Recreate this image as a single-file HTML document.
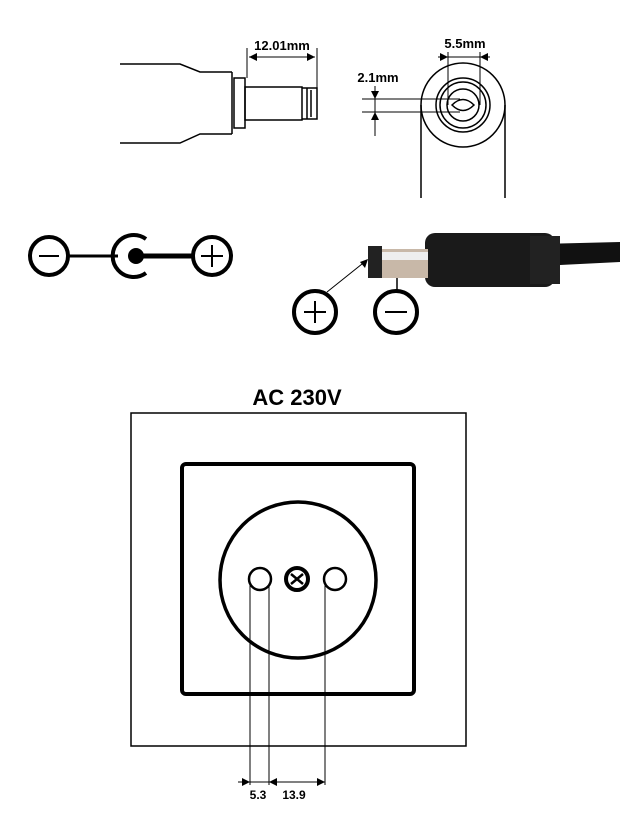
<!DOCTYPE html><html><head><style>body{margin:0;background:#fff}svg{display:block}text{font-family:"Liberation Sans",sans-serif;font-weight:bold}</style></head><body>
<svg width="635" height="836" viewBox="0 0 635 836" xmlns="http://www.w3.org/2000/svg">
<g fill="none" stroke="#000" stroke-width="1.5">
<path d="M120,64H180L200,72H232M120,143H180L200,134H232"/>
<path d="M232,72V134"/>
<rect x="234" y="78" width="11" height="50"/>
<rect x="245" y="87" width="57" height="33"/>
<path d="M302,88H317V119H302M307,88V119M311,90V117"/>
<path d="M247,48V78M317,48V90" stroke-width="1"/>
<path d="M249,57H315" stroke-width="1"/>
<circle cx="463" cy="105" r="42"/>
<path d="M421,105V198M505,105V198"/>
<circle cx="463" cy="105" r="27"/><circle cx="463" cy="105" r="23"/><circle cx="463" cy="105" r="16"/>
<path d="M452,105Q463,94 474,105Q463,116 452,105Z"/>
<path d="M448,52V105M480,52V105" stroke-width="1"/>
<path d="M438,57H490" stroke-width="1"/>
<path d="M362,99H460M362,112H460" stroke-width="1"/>
<path d="M375,86V136" stroke-width="1"/>
</g>
<g fill="#000">
<path d="M249,57l8,-4v8z M315,57l-8,-4v8z"/>
<path d="M448,57l-8,-4v8z M480,57l8,-4v8z"/>
<path d="M375,99l-4,-8h8z M375,112l-4,8h8z"/>
</g>
<text x="282" y="50" font-size="13" text-anchor="middle">12.01mm</text>
<text x="465" y="48" font-size="13" text-anchor="middle">5.5mm</text>
<text x="378" y="82" font-size="13" text-anchor="middle">2.1mm</text>
<g fill="none" stroke="#000" stroke-width="4">
<circle cx="49" cy="256" r="19"/><path d="M39,256H59" stroke-width="2"/>
<path d="M68,256H118" stroke-width="3"/>
<path d="M146,239A21,21 0 1 0 146,273"/>
<path d="M136,256H193" stroke-width="5"/>
<circle cx="212" cy="256" r="19"/><path d="M201,256H223M212,245V267" stroke-width="2"/>
<circle cx="315" cy="312" r="21"/><path d="M304,312H326M315,301V323" stroke-width="2"/>
<circle cx="396" cy="312" r="21"/><path d="M385,312H407" stroke-width="2"/>
</g>
<circle cx="136" cy="256" r="8"/>
<path d="M327,292L362,264" stroke="#000" stroke-width="1"/>
<path d="M368,259l-3,9l-5,-6z" fill="#000"/>
<path d="M397,291V276" stroke="#000" stroke-width="1.5"/>
<path d="M397,270l-4,8h8z" fill="#000"/>
<path d="M540,244L620,242V262L540,266Z" fill="#111"/>
<rect x="425" y="233" width="130" height="54" rx="10" fill="#1a1a1a"/>
<rect x="530" y="236" width="30" height="48" fill="#222"/>
<rect x="380" y="249" width="48" height="29" fill="#c8b8a8"/>
<rect x="380" y="252" width="48" height="8" fill="#eee"/>
<rect x="368" y="246" width="14" height="32" fill="#222"/>
<text x="297" y="405" font-size="22" text-anchor="middle">AC 230V</text>
<g fill="none" stroke="#000">
<rect x="131" y="413" width="335" height="333" stroke-width="1.5"/>
<rect x="182" y="464" width="232" height="230" rx="4" stroke-width="4"/>
<circle cx="298" cy="580" r="78" stroke-width="3.5"/>
<circle cx="260" cy="579" r="11" stroke-width="2.5"/>
<circle cx="335" cy="579" r="11" stroke-width="2.5"/>
<circle cx="297" cy="579" r="11" stroke-width="4"/>
<path d="M291,574L303,584M303,574L291,584" stroke-width="2.5"/>
<path d="M250,584V785M269,584V785M325,584V785" stroke-width="1"/>
<path d="M238,782H325" stroke-width="1"/>
</g>
<path d="M250,782l-8,-4v8z M269,782l8,-4v8z M325,782l-8,-4v8z" fill="#000"/>
<text x="258" y="799" font-size="12" text-anchor="middle">5.3</text>
<text x="294" y="799" font-size="12" text-anchor="middle">13.9</text>
</svg></body></html>
